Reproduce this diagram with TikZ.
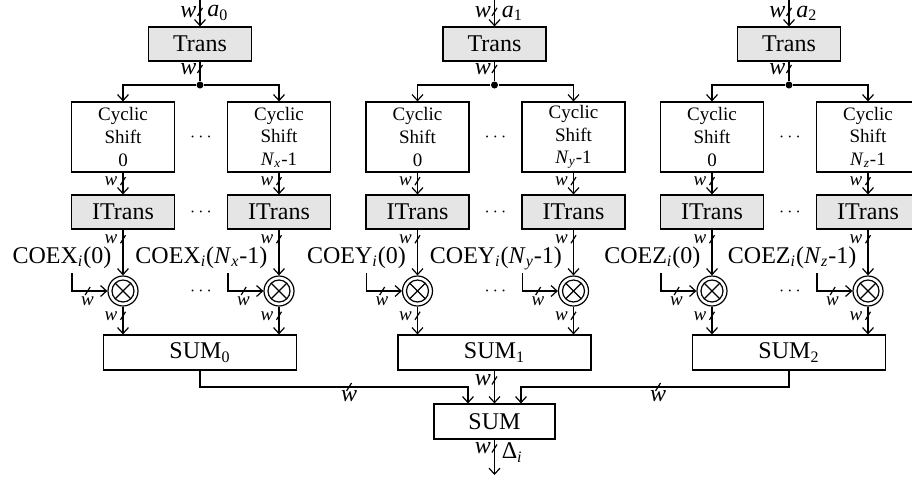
\documentclass[tikz,border=0pt]{standalone}
\usepackage{fontspec}
\setmainfont{Liberation Serif}
\usetikzlibrary{arrows.meta,decorations.markings}

\tikzset{
  blk/.style={draw, fill=white, minimum width=51.5pt, minimum height=17pt, inner sep=0pt},
  gblk/.style={blk, fill=black!10},
  cblk/.style={blk, minimum height=35pt, align=center, font=\fontsize{9.5}{11.3}\selectfont},
  sblk/.style={blk, minimum width=96.5pt, minimum height=17.5pt},
  jdot/.style={circle, fill, inner sep=0pt, minimum size=3.5pt},
  mult/.style={circle, draw, fill=white, minimum size=15pt, inner sep=0pt,
    path picture={
      \draw (path picture bounding box.center) circle[radius=5.5pt];
      \draw ([shift={(45:5.5pt)}]path picture bounding box.center) -- ([shift={(225:5.5pt)}]path picture bounding box.center);
      \draw ([shift={(135:5.5pt)}]path picture bounding box.center) -- ([shift={(315:5.5pt)}]path picture bounding box.center);
    }},
  lab/.style={font=\fontsize{9.5}{11}\selectfont\itshape, inner sep=2.5pt},
  blab/.style={font=\fontsize{12}{14}\selectfont\itshape, inner sep=1.5pt},
  coe/.style={font=\fontsize{12}{14.4}\selectfont, anchor=base east, inner sep=0pt},
  dts/.style={font=\fontsize{9}{10}\selectfont},
  wbus/.style={postaction={decorate}, decoration={markings,
    mark=at position #1 with {\pgftransformresetnontranslations \draw[-] (-1.25pt,-2pt) -- (1.25pt,2pt);}}},
}

\begin{document}
\begin{tikzpicture}[x=0.5pt, y=-0.5pt, line width=0.6pt,
    >={Straight Barb[length=3pt,width=5.5pt]}, font=\fontsize{12}{14.4}\selectfont]
  \clip (0,0) rectangle (912,479);

  % final adder
  \node[sblk, minimum width=60.5pt] (sum) at (494.5,421.5) {SUM};
  \coordinate (out) at (494.5,475);
  \coordinate (j0) at (468,387);
  \coordinate (j2) at (521,387);

  \foreach \g/\cx/\ax/\sx in {0/200/X/x, 1/494.5/Y/y, 2/789/Z/z} {
    \coordinate (in\g) at (\cx,0);
    \node[gblk] (tr\g) at (\cx,44) {Trans};
    \node[jdot] (dot\g) at (\cx,85) {};
    \node[sblk] (s\g) at (\cx,352.5) {SUM\textsubscript{\g}};
    \draw[->, wbus=.45] (in\g) -- node[blab, left, pos=.45] (wi\g) {w}
      node[right, pos=.5] (a\g) {\textit{a}\textsubscript{\g}} (tr\g);
    \draw[wbus=.38] (tr\g) -- node[blab, left, pos=.38] (wt\g) {w} (dot\g);

    \node[dts] (dc\g) at (\cx+1,137) {$\cdots$};
    \node[dts] (di\g) at (\cx+1,212) {$\cdots$};
    \node[dts] (dm\g) at (\cx+1,291) {$\cdots$};

    \foreach \side/\dx/\num in {l/-77/0, r/79/\textit{N}\textsubscript{\textit{\sx}}-1} {
      \node[cblk] (cs\side\g) at (\cx+\dx,137) {Cyclic\\Shift\\\num};
      \node[gblk] (it\side\g) at (\cx+\dx,212) {ITrans};
      \node[mult] (m\side\g) at (\cx+\dx,291) {};
      \coordinate (k\side\g) at (\cx+\dx-51,273);
      \node[coe] (coe\side\g) at (\cx+\dx-11,263) {COE\ax\textsubscript{\textit{i}}(\num)};

      \draw[->] (dot\g) -| (cs\side\g);
      \draw[->, wbus=.39] (cs\side\g) -- node[lab, left, pos=.39] (wc\side\g) {w} (it\side\g);
      \draw[->, wbus=.21] (it\side\g) -- node[lab, left, pos=.21] (wm\side\g) {w} (m\side\g);
      \draw[->, wbus=.63] (k\side\g) |- node[lab, below, pos=.72] (wk\side\g) {w} (m\side\g);
      \draw[->, wbus=.33] (m\side\g) -- node[lab, left, pos=.33] (ws\side\g) {w} (m\side\g |- s\g.north);
    }
  }

  \draw[->, wbus=.55] (s0) |- node[blab, below, pos=.778] (wj0) {w} (j0) -- (j0 |- sum.north);
  \draw[->, wbus=.3] (s1) -- node[blab, left, pos=.3] (wj1) {w} (sum);
  \draw[->, wbus=.49] (s2) |- node[blab, below, pos=.744] (wj2) {w} (j2) -- (j2 |- sum.north);
  \draw[->, wbus=.25] (sum) -- node[blab, left, pos=.25] (wo) {w}
    node[right, pos=.36] (delta) {Δ\textsubscript{\textit{i}}} (out);
\end{tikzpicture}
\end{document}
